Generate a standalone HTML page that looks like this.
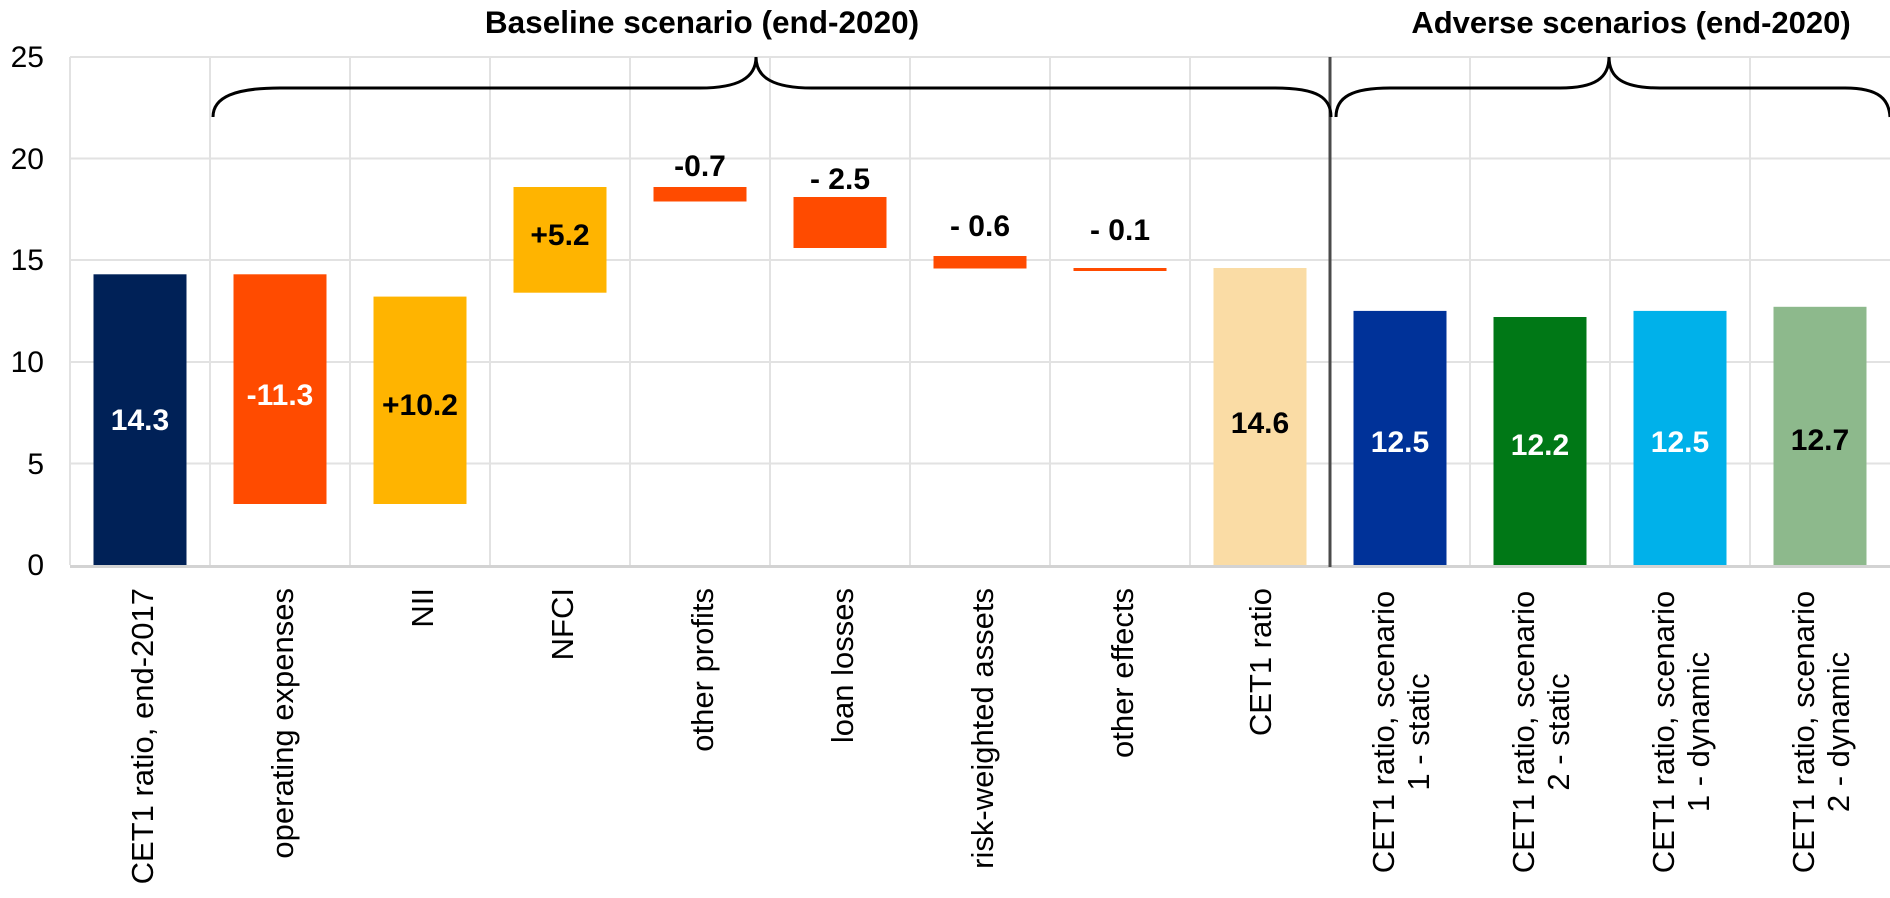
<!DOCTYPE html>
<html><head><meta charset="utf-8"><style>
html,body{margin:0;padding:0;background:#fff;}
svg{display:block;font-family:"Liberation Sans",Arial,sans-serif;}
</style></head><body>
<svg width="1890" height="898" viewBox="0 0 1890 898" xmlns="http://www.w3.org/2000/svg">
<g stroke="#e2e2e2" stroke-width="2">
<line x1="70" y1="57" x2="1890" y2="57"/>
<line x1="70" y1="158.5" x2="1890" y2="158.5"/>
<line x1="70" y1="260" x2="1890" y2="260"/>
<line x1="70" y1="362" x2="1890" y2="362"/>
<line x1="70" y1="463.5" x2="1890" y2="463.5"/>
<line x1="70" y1="57" x2="70" y2="565"/>
<line x1="210" y1="57" x2="210" y2="565"/>
<line x1="350" y1="57" x2="350" y2="565"/>
<line x1="490" y1="57" x2="490" y2="565"/>
<line x1="630" y1="57" x2="630" y2="565"/>
<line x1="770" y1="57" x2="770" y2="565"/>
<line x1="910" y1="57" x2="910" y2="565"/>
<line x1="1050" y1="57" x2="1050" y2="565"/>
<line x1="1190" y1="57" x2="1190" y2="565"/>
<line x1="1470" y1="57" x2="1470" y2="565"/>
<line x1="1610" y1="57" x2="1610" y2="565"/>
<line x1="1750" y1="57" x2="1750" y2="565"/>
</g>
<rect x="93.5" y="274.3" width="93" height="290.7" fill="#002157"/>
<rect x="233.5" y="274.3" width="93" height="229.7" fill="#ff4b00"/>
<rect x="373.5" y="296.6" width="93" height="207.4" fill="#ffb400"/>
<rect x="513.5" y="187" width="93" height="105.7" fill="#ffb400"/>
<rect x="653.5" y="187" width="93" height="14.5" fill="#ff4b00"/>
<rect x="793.5" y="197" width="93" height="51" fill="#ff4b00"/>
<rect x="933.5" y="256" width="93" height="12.5" fill="#ff4b00"/>
<rect x="1073.5" y="268" width="93" height="3" fill="#ff4b00"/>
<rect x="1213.5" y="268" width="93" height="297" fill="#fadca5"/>
<rect x="1353.5" y="310.9" width="93" height="254.1" fill="#003299"/>
<rect x="1493.5" y="317" width="93" height="248" fill="#007816"/>
<rect x="1633.5" y="310.9" width="93" height="254.1" fill="#00b1ea"/>
<rect x="1773.5" y="306.8" width="93" height="258.2" fill="#8db98c"/>
<line x1="70" y1="566.5" x2="1890" y2="566.5" stroke="#d3d3d3" stroke-width="3"/>
<line x1="1330" y1="57" x2="1330" y2="567" stroke="#4a4a4a" stroke-width="3"/>
<path d="M213,117 C213,97 235,88 280,88 L700,88 C738,88 756,78 756,57 C756,78 774,88 812,88 L1275,88 C1318,88 1331,98 1331,117" fill="none" stroke="#000" stroke-width="3"/>
<path d="M1336,117 C1336,97 1352,88 1390,88 L1560,88 C1595,88 1609,78 1609,57 C1609,78 1623,88 1660,88 L1845,88 C1880,88 1889,100 1890,117" fill="none" stroke="#000" stroke-width="3"/>
<g font-size="30" text-anchor="end" fill="#000">
<text x="44" y="67">25</text>
<text x="44" y="169">20</text>
<text x="44" y="270">15</text>
<text x="44" y="372">10</text>
<text x="44" y="474">5</text>
<text x="44" y="575">0</text>
</g>
<g font-weight="bold" text-anchor="middle">
<text x="702" y="33" font-size="31.5">Baseline scenario (end-2020)</text>
<text x="1631" y="33" font-size="31">Adverse scenarios (end-2020)</text>
</g>
<g font-size="30" font-weight="bold" text-anchor="middle">
<text x="140" y="430" fill="#fff">14.3</text>
<text x="280" y="405" fill="#fff">-11.3</text>
<text x="420" y="415" fill="#000">+10.2</text>
<text x="560" y="245" fill="#000">+5.2</text>
<text x="700" y="176" fill="#000">-0.7</text>
<text x="840" y="189" fill="#000">- 2.5</text>
<text x="980" y="236" fill="#000">- 0.6</text>
<text x="1120" y="240" fill="#000">- 0.1</text>
<text x="1260" y="433" fill="#000">14.6</text>
<text x="1400" y="452" fill="#fff">12.5</text>
<text x="1540" y="455" fill="#fff">12.2</text>
<text x="1680" y="452" fill="#fff">12.5</text>
<text x="1820" y="450" fill="#000">12.7</text>
</g>
<g font-size="31" fill="#000" text-anchor="end">
<text transform="translate(153,588) rotate(-90)">CET1 ratio, end-2017</text>
<text transform="translate(293,588) rotate(-90)">operating expenses</text>
<text transform="translate(433,588) rotate(-90)">NII</text>
<text transform="translate(573,588) rotate(-90)">NFCI</text>
<text transform="translate(713,588) rotate(-90)">other profits</text>
<text transform="translate(853,588) rotate(-90)">loan losses</text>
<text transform="translate(993,588) rotate(-90)">risk-weighted assets</text>
<text transform="translate(1133,588) rotate(-90)">other effects</text>
<text transform="translate(1271,588) rotate(-90)">CET1 ratio</text>
</g>
<g font-size="31" fill="#000" text-anchor="middle">
<text transform="translate(1394,732) rotate(-90)">CET1 ratio, scenario</text>
<text transform="translate(1429,732) rotate(-90)">1 - static</text>
<text transform="translate(1534,732) rotate(-90)">CET1 ratio, scenario</text>
<text transform="translate(1569,732) rotate(-90)">2 - static</text>
<text transform="translate(1674,732) rotate(-90)">CET1 ratio, scenario</text>
<text transform="translate(1709,732) rotate(-90)">1 - dynamic</text>
<text transform="translate(1814,732) rotate(-90)">CET1 ratio, scenario</text>
<text transform="translate(1849,732) rotate(-90)">2 - dynamic</text>
</g>
</svg>
</body></html>
